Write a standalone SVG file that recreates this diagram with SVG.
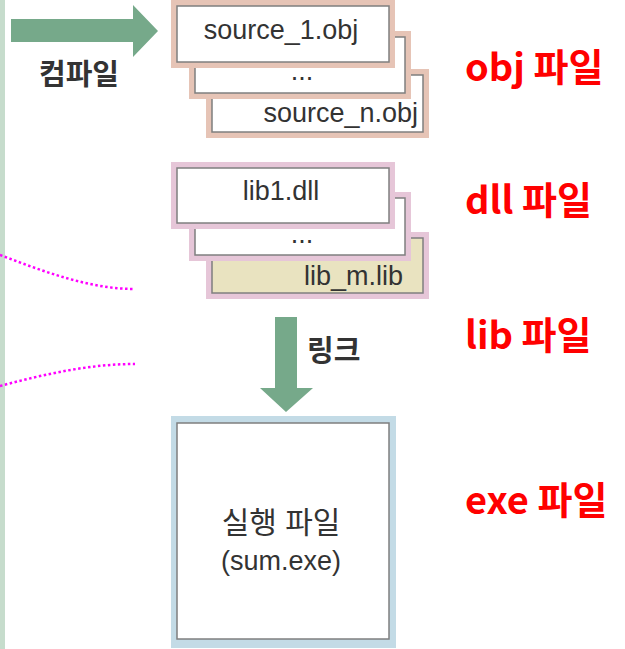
<svg xmlns="http://www.w3.org/2000/svg" width="625" height="649" viewBox="0 0 625 649">
<style>
.inner{fill:#fff;stroke:#7f7f7f;stroke-width:1.5}
.objb{fill:#e6c4b6}
.dllb{fill:#e6c6d8}
.exeb{fill:#c3dbe6}
.t{font-family:"Liberation Sans","Noto Sans CJK KR",sans-serif;font-size:27px;fill:#333}
.k{font-family:"Noto Sans CJK KR",sans-serif;font-size:29px;fill:#333;font-weight:bold}
.red{font-family:"Noto Sans CJK KR",sans-serif;font-size:38px;fill:#ff0000;font-weight:bold}
.arrow{fill:#76a98a}
.dot{fill:none;stroke:#ff00ff;stroke-width:2.5;stroke-dasharray:2.5 2.5}
</style>
<rect x="0" y="0" width="5" height="649" fill="#c6dccc"/>
<g id="connectors">
<path class="arrow" d="M11,19 H133 V5 L158,31 L133,57 V42 H11 Z"/>
<path class="arrow" d="M275,317 H297 V388 H313 L286,412 L260,388 H275 Z"/>
<path class="dot" d="M0,255 C45,272 90,289 135,289"/>
<path class="dot" d="M0,386 C45,374 90,364 135,364"/>
</g>
<g id="compile-label"><text class="k" x="39" y="85">컴파일</text></g>
<g id="link-label"><text class="k" x="307" y="361">링크</text></g>
<g id="obj-n">
<rect class="objb" x="206" y="69" width="223" height="69"/>
<rect class="inner" x="212" y="75" width="211" height="57"/>
<text class="t" x="418" y="122" text-anchor="end">source_n.obj</text>
</g>
<g id="obj-mid">
<rect class="objb" x="189" y="31" width="222" height="68"/>
<rect class="inner" x="195" y="37" width="210" height="56"/>
<text class="t" x="302" y="80" text-anchor="middle">...</text>
</g>
<g id="obj-1">
<rect class="objb" x="171" y="0" width="224" height="68"/>
<rect class="inner" x="177" y="6" width="212" height="56"/>
<text class="t" x="281" y="39" text-anchor="middle">source_1.obj</text>
</g>
<g id="dll-m">
<rect class="dllb" x="206" y="232" width="223" height="67"/>
<rect class="inner" x="212" y="238" width="211" height="55" style="fill:#e9e3c0"/>
<text class="t" x="403" y="285" text-anchor="end">lib_m.lib</text>
</g>
<g id="dll-mid">
<rect class="dllb" x="189" y="192" width="222" height="69"/>
<rect class="inner" x="195" y="198" width="210" height="57"/>
<text class="t" x="302" y="243" text-anchor="middle">...</text>
</g>
<g id="dll-1">
<rect class="dllb" x="171" y="162" width="224" height="67"/>
<rect class="inner" x="177" y="168" width="212" height="55"/>
<text class="t" x="281" y="200" text-anchor="middle">lib1.dll</text>
</g>
<g id="exe">
<rect class="exeb" x="171" y="416" width="225" height="232"/>
<rect class="inner" x="177" y="423" width="212" height="216"/>
<text class="t" x="281" y="533" text-anchor="middle" style="font-size:30px">실행 파일</text>
<text class="t" x="281" y="570" text-anchor="middle">(sum.exe)</text>
</g>
<g id="labels">
<text class="red" x="465" y="81">obj 파일</text>
<text class="red" x="465" y="214">dll 파일</text>
<text class="red" x="465" y="349">lib 파일</text>
<text class="red" x="465" y="514">exe 파일</text>
</g>
</svg>
